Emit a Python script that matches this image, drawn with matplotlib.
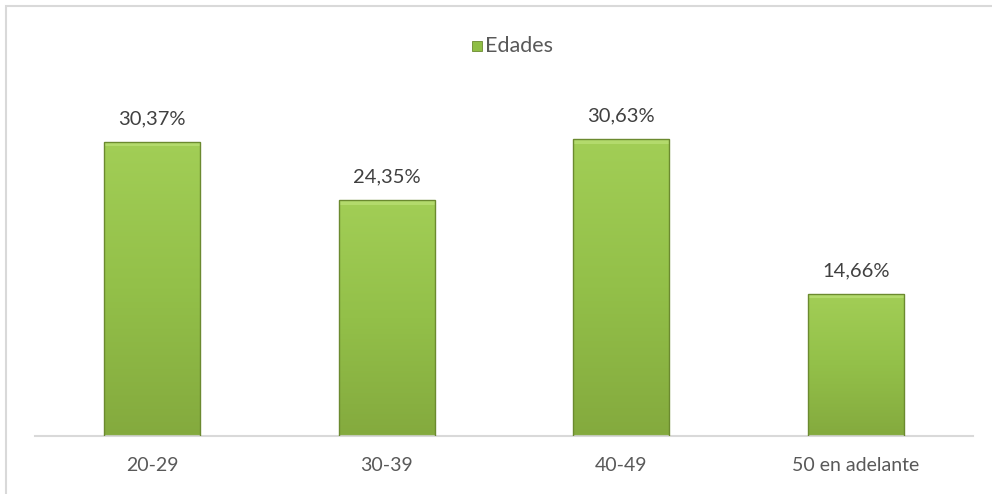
import numpy as np
import matplotlib.pyplot as plt
from matplotlib.colors import LinearSegmentedColormap
from matplotlib.patches import Rectangle

# data
categories = ['20-29', '30-39', '40-49', '50 en adelante']
values = [30.37, 24.35, 30.63, 14.66]
labels = ['30,37%', '24,35%', '30,63%', '14,66%']
series_name = 'Edades'

W, H = 992, 494
fig = plt.figure(figsize=(W / 100, H / 100), dpi=100)
plt.rcParams['font.family'] = ['Lato', 'DejaVu Sans']

# outer chart frame
fig.patches.append(Rectangle((6 / W, -0.01), 1.0, 1 - 6 / H + 0.01, transform=fig.transFigure,
                             fill=False, edgecolor='#d9d9d9', linewidth=1.5))

# plot area in pixel coordinates
left, right, top, bottom = 35, 973, 97, 436
ax = fig.add_axes([left / W, 1 - bottom / H, (right - left) / W, (bottom - top) / H])

x = np.arange(len(categories))
bars = ax.bar(x, values, width=0.41, color='#92c047', edgecolor='none', zorder=2)

# vertical gradient inside each bar, lighter on top
cmap = LinearSegmentedColormap.from_list('g', ['#84aa3e', '#93c049', '#a2ce56'])
grad = np.linspace(0, 1, 256).reshape(-1, 1)
for b in bars:
    x0, w, h = b.get_x(), b.get_width(), b.get_height()
    im = ax.imshow(grad, extent=(x0, x0 + w, 0, h), origin='lower', cmap=cmap,
                   aspect='auto', zorder=2.5)
    im.set_clip_path(b)
    # bevelled top edge and dark outline
    ax.add_patch(Rectangle((x0, h - 0.45), w, 0.45, facecolor='#b3da6c', edgecolor='none', zorder=3))
    ax.add_patch(Rectangle((x0, 0), w, h, fill=False, edgecolor='#6b8a2f', linewidth=1.0, zorder=3.5))

for xi, v, lab in zip(x, values, labels):
    ax.text(xi, v + 1.5, lab, ha='center', va='bottom', fontsize=14.5, color='#404040')

ax.set_xlim(-0.5, 3.5)
ax.set_ylim(0, 35)
ax.set_xticks(x)
ax.set_xticklabels(categories, fontsize=14, color='#595959')
ax.tick_params(axis='x', length=0, pad=15)
ax.set_yticks([])
for s in ['top', 'right', 'left']:
    ax.spines[s].set_visible(False)
ax.spines['bottom'].set_color('#d9d9d9')
ax.spines['bottom'].set_linewidth(1.5)

# legend above plot
sq = 10
fig.patches.append(Rectangle((472 / W, 1 - (46 + sq / 2) / H), sq / W, sq / H, transform=fig.transFigure,
                             facecolor='#8fbe45', edgecolor='#6b8a2f', linewidth=0.6))
fig.text(485 / W, 1 - 46 / H, series_name, color='#595959', fontsize=15.5, ha='left', va='center')

fig.savefig('out.png', dpi=100)
